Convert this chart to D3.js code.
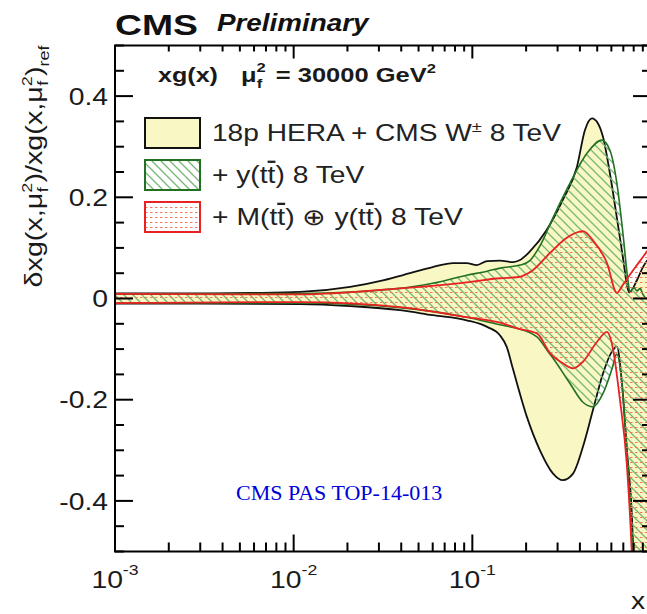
<!DOCTYPE html>
<html>
<head>
<meta charset="utf-8">
<script src="https://cdn.jsdelivr.net/npm/d3@7"></script>
<style>
  body { margin: 0; background: #fff; }
  svg { display: block; }
</style>
</head>
<body>
<script>
// outer band: 18p HERA + CMS W 8 TeV
const heraUpX = [0.001, 0.003, 0.0057, 0.0109, 0.0207, 0.0316, 0.0448, 0.060, 0.078, 0.093, 0.106, 0.121, 0.143, 0.169, 0.185, 0.21, 0.26, 0.32, 0.385, 0.427, 0.467, 0.505, 0.538, 0.589, 0.644, 0.696, 0.743, 0.757, 0.834, 0.901, 1.0];
const heraUp  = [0.010, 0.010, 0.011, 0.013, 0.023, 0.036, 0.050, 0.062, 0.070, 0.070, 0.066, 0.074, 0.075, 0.072, 0.076, 0.093, 0.135, 0.194, 0.260, 0.333, 0.356, 0.346, 0.320, 0.247, 0.160, 0.082, 0.018, 0.012, 0.036, 0.062, 0.085];
const heraDnX = [0.001, 0.003, 0.0109, 0.0207, 0.0394, 0.060, 0.093, 0.121, 0.143, 0.156, 0.169, 0.202, 0.239, 0.283, 0.321, 0.366, 0.416, 0.473, 0.538, 0.604, 0.644, 0.688, 0.733, 0.782, 0.80, 0.85, 1.0];
const heraDn  = [-0.010, -0.010, -0.011, -0.015, -0.023, -0.033, -0.043, -0.056, -0.073, -0.096, -0.140, -0.234, -0.300, -0.346, -0.359, -0.346, -0.293, -0.221, -0.149, -0.105, -0.095, -0.168, -0.300, -0.430, -0.520, -0.700, -1.0];

// + y(tt) 8 TeV
const ttUpX = [0.001, 0.0109, 0.0394, 0.060, 0.093, 0.121, 0.143, 0.185, 0.21, 0.24, 0.283, 0.352, 0.438, 0.531, 0.589, 0.644, 0.696, 0.743, 0.762, 0.80, 0.834, 0.87, 0.901, 0.95, 1.0];
const ttUp  = [0.009, 0.010, 0.020, 0.030, 0.046, 0.054, 0.060, 0.066, 0.075, 0.105, 0.160, 0.228, 0.287, 0.313, 0.293, 0.228, 0.130, 0.036, 0.013, 0.022, 0.015, 0.020, 0.008, 0.000, 0.005];
const ttDnX = [0.001, 0.0109, 0.0394, 0.093, 0.148, 0.178, 0.23, 0.272, 0.283, 0.352, 0.416, 0.473, 0.538, 0.604, 0.644, 0.688, 0.733, 0.782, 0.80, 1.0];
const ttDn  = [-0.009, -0.009, -0.018, -0.037, -0.053, -0.059, -0.076, -0.110, -0.118, -0.168, -0.205, -0.214, -0.188, -0.140, -0.110, -0.170, -0.300, -0.470, -0.550, -1.0];

// + M(tt) (+) y(tt) 8 TeV
const mtUpX = [0.001, 0.0109, 0.0394, 0.093, 0.143, 0.178, 0.218, 0.272, 0.338, 0.416, 0.473, 0.567, 0.644, 0.696, 0.762, 0.834, 0.901, 1.0];
const mtUp  = [0.009, 0.008, 0.020, 0.032, 0.040, 0.042, 0.056, 0.090, 0.120, 0.133, 0.115, 0.070, 0.011, 0.027, 0.047, 0.066, 0.082, 0.104];
const mtDnX = [0.001, 0.0109, 0.0394, 0.093, 0.148, 0.178, 0.23, 0.272, 0.321, 0.366, 0.416, 0.498, 0.567, 0.604, 0.67, 0.733, 0.78, 0.80, 1.0];
const mtDn  = [-0.009, -0.007, -0.017, -0.037, -0.049, -0.059, -0.069, -0.108, -0.128, -0.138, -0.125, -0.086, -0.066, -0.089, -0.200, -0.330, -0.500, -0.600, -1.0];

const yTicks = d3.range(-10, 11).map(i => +(i * 0.05).toFixed(2));
const yTickLabels = [-0.4, -0.2, 0, 0.2, 0.4];
const xDecades = [-3, -2, -1];

const width = 647, height = 614;
const m = { l: 115, r: 651, t: 45.5, b: 551.5 };
const stretch = 1.18;

const svg = d3.select("body").append("svg")
  .attr("width", width).attr("height", height)
  .style("font-family", "'Liberation Sans', Arial, sans-serif");

const x = d3.scaleLog().domain([1e-3, 1]).range([m.l, m.r]);
const y = d3.scaleLinear().domain([-0.5, 0.5]).range([m.b, m.t]);

const defs = svg.append("defs");
defs.append("clipPath").attr("id", "plot")
  .append("rect").attr("x", m.l).attr("y", m.t).attr("width", m.r - m.l).attr("height", m.b - m.t);

const gp = defs.append("pattern").attr("id", "hatchG")
  .attr("patternUnits", "userSpaceOnUse").attr("width", 9).attr("height", 9);
gp.append("path").attr("d", "M0,0L9,9M-2,7L2,11M7,-2L11,2")
  .attr("stroke", "#74b874").attr("stroke-width", 1.3);

const rp = defs.append("pattern").attr("id", "hatchR")
  .attr("patternUnits", "userSpaceOnUse").attr("width", 5).attr("height", 5);
rp.append("path").attr("d", "M0,2.5H2.5")
  .attr("stroke", "#f07a5a").attr("stroke-width", 1);

const pts = (xs, ys) => xs.map((v, i) => [x(v), y(ys[i])]);
const line = d3.line().curve(d3.curveMonotoneX);

function band(xu, yu, xd, yd) {
  const up = pts(xu, yu), dn = pts(xd, yd).reverse();
  return line(up) + "L" + line(dn).slice(1) + "Z";
}

const bands = [
  { ux: heraUpX, uy: heraUp, dx: heraDnX, dy: heraDn, fill: "#f9f7c4", stroke: "#111", sw: 1.8 },
  { ux: ttUpX, uy: ttUp, dx: ttDnX, dy: ttDn, fill: "url(#hatchG)", stroke: "#237023", sw: 1.6 },
  { ux: mtUpX, uy: mtUp, dx: mtDnX, dy: mtDn, fill: "url(#hatchR)", stroke: "#e82222", sw: 1.8 }
];

const plot = svg.append("g").attr("clip-path", "url(#plot)");
bands.forEach(b => {
  plot.append("path").attr("d", band(b.ux, b.uy, b.dx, b.dy)).attr("fill", b.fill).attr("stroke", "none");
  plot.append("path").attr("d", line(pts(b.ux, b.uy))).attr("fill", "none").attr("stroke", b.stroke).attr("stroke-width", b.sw);
  plot.append("path").attr("d", line(pts(b.dx, b.dy))).attr("fill", "none").attr("stroke", b.stroke).attr("stroke-width", b.sw);
});

// frame and ticks
const axes = svg.append("g").attr("stroke", "#000").attr("fill", "none");
axes.append("rect").attr("x", m.l).attr("y", m.t).attr("width", m.r - m.l).attr("height", m.b - m.t).attr("stroke-width", 2);

xDecades.forEach(e => {
  d3.range(1, 10).forEach(k => {
    const v = k * Math.pow(10, e), px = x(v), major = k === 1;
    axes.append("line").attr("x1", px).attr("x2", px).attr("y1", m.b).attr("y2", m.b - (major ? 17 : 9)).attr("stroke-width", 2);
    axes.append("line").attr("x1", px).attr("x2", px).attr("y1", m.t).attr("y2", m.t + (major ? 13 : 6)).attr("stroke-width", 2);
  });
});
yTicks.forEach(v => {
  const py = y(v), major = Math.abs(v * 5 - Math.round(v * 5)) < 1e-6;
  const len = major ? 18 : 9;
  axes.append("line").attr("x1", m.l).attr("x2", m.l + len).attr("y1", py).attr("y2", py).attr("stroke-width", 2);
  axes.append("line").attr("x1", m.r).attr("x2", m.r - len).attr("y1", py).attr("y2", py).attr("stroke-width", 2);
});

// tick labels (plain hyphen as minus, like the original)
yTickLabels.forEach(v => {
  svg.append("text")
    .attr("transform", `translate(108,${y(v)}) scale(${stretch},1)`)
    .attr("text-anchor", "end").attr("dy", "0.36em")
    .attr("font-size", 24).attr("fill", "#1a1a1a")
    .text(v === 0 ? "0" : v.toFixed(1));
});
xDecades.forEach(e => {
  const t = svg.append("text")
    .attr("transform", `translate(${x(Math.pow(10, e))},588) scale(${stretch},1)`)
    .attr("text-anchor", "middle").attr("font-size", 24).attr("fill", "#1a1a1a");
  t.append("tspan").text("10");
  t.append("tspan").attr("dy", -13).attr("font-size", 15).text(String(e));
});

svg.append("text").attr("transform", `translate(631,609) scale(${stretch},1)`)
  .attr("font-size", 24).attr("fill", "#1a1a1a").text("x");

// fit a text node horizontally between x0 and x1 at the given baseline
function fit(t, x0, x1, base) {
  const w = t.node().getBBox().width;
  t.attr("transform", `translate(${x0},${base}) scale(${(x1 - x0) / w},1)`);
  return t;
}

// y axis title
const yt = svg.append("text").attr("font-size", 24).attr("fill", "#1a1a1a").attr("text-anchor", "middle");
function mu2f(t) {
  t.append("tspan").text("μ");
  t.append("tspan").attr("dy", -10).attr("font-size", 15).text("2");
  t.append("tspan").attr("dx", -8).attr("dy", 16).attr("font-size", 15).text("f");
}
yt.append("tspan").text("δxg(x,");
mu2f(yt);
yt.append("tspan").attr("dx", 4).attr("dy", -6).text(")/xg(x,");
mu2f(yt);
yt.append("tspan").attr("dx", 4).attr("dy", -6).text(")");
yt.append("tspan").attr("dy", 7).attr("font-size", 15).text("ref");
{
  const w = yt.node().getBBox().width;
  yt.attr("transform", `translate(42,166.5) rotate(-90) scale(${243 / w},1)`);
}

// header
fit(svg.append("text").attr("font-size", 30).attr("font-weight", "bold").attr("fill", "#111").text("CMS"), 115, 198, 35);
fit(svg.append("text").attr("font-size", 23).attr("font-weight", "bold").attr("font-style", "italic").attr("fill", "#111").text("Preliminary"), 217, 370, 30.5);

fit(svg.append("text").attr("font-size", 20).attr("font-weight", "bold").attr("fill", "#1a1a1a").text("xg(x)"), 158, 218, 82);
{
  const t = svg.append("text").attr("font-size", 20).attr("font-weight", "bold").attr("fill", "#1a1a1a");
  t.append("tspan").text("μ");
  t.append("tspan").attr("dy", -10).attr("font-size", 13).text("2");
  t.append("tspan").attr("dx", -7).attr("dy", 16).attr("font-size", 13).text("f");
  t.append("tspan").attr("dx", 5).attr("dy", -6).text(" = 30000 GeV");
  t.append("tspan").attr("dy", -9).attr("font-size", 13).text("2");
  fit(t, 241, 436, 82);
}

// legend
const legendBoxes = [
  { y0: 118, fill: "#f9f7c4", stroke: "#111" },
  { y0: 160, fill: "url(#hatchG)", stroke: "#237023" },
  { y0: 202, fill: "url(#hatchR)", stroke: "#e82222" }
];
legendBoxes.forEach(b => {
  svg.append("rect").attr("x", 145).attr("y", b.y0).attr("width", 55).attr("height", 30)
    .attr("fill", b.fill).attr("stroke", b.stroke).attr("stroke-width", 2);
});

function tbar(t) {
  t.append("tspan").text("t");
  t.append("tspan").attr("text-decoration", "overline").text("t");
}
{
  const t = svg.append("text").attr("font-size", 23).attr("fill", "#222");
  t.append("tspan").text("18p HERA + CMS W");
  t.append("tspan").attr("dy", -9).attr("font-size", 15).text("±");
  t.append("tspan").attr("dy", 9).text(" 8 TeV");
  fit(t, 212, 562, 141);
}
{
  const t = svg.append("text").attr("font-size", 23).attr("fill", "#222");
  t.append("tspan").text("+ y(");
  tbar(t);
  t.append("tspan").text(") 8 TeV");
  fit(t, 212, 365, 183);
}
{
  const t = svg.append("text").attr("font-size", 23).attr("fill", "#222");
  t.append("tspan").text("+ M(");
  tbar(t);
  t.append("tspan").text(") ⊕ y(");
  tbar(t);
  t.append("tspan").text(") 8 TeV");
  fit(t, 212, 463, 225);
}

svg.append("text").attr("x", 236).attr("y", 500)
  .attr("font-family", "'Liberation Serif', 'Times New Roman', serif")
  .attr("font-size", 22).attr("fill", "#0000d8")
  .text("CMS PAS TOP-14-013");
</script>
</body>
</html>
